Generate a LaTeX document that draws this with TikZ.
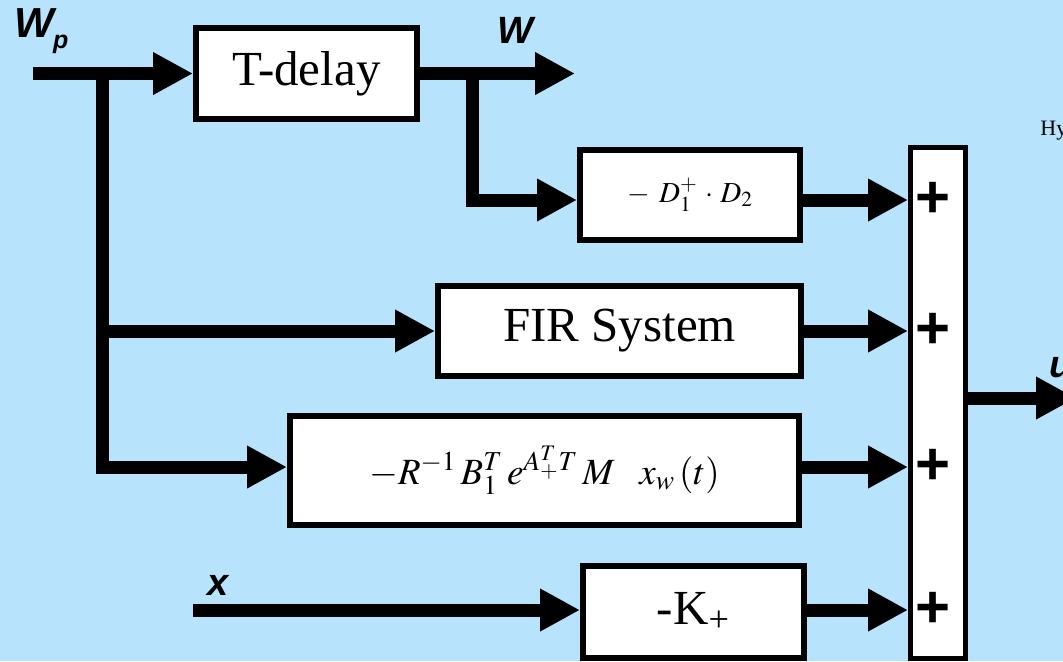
\documentclass[tikz,border=0pt]{standalone}
\usepackage{mathptmx}
\usepackage{fontspec}
\setmainfont{Liberation Serif}
\setsansfont{Liberation Sans}
\usetikzlibrary{arrows.meta,calc}
\definecolor{bg}{RGB}{183,228,252}
\begin{document}
\begin{tikzpicture}[x=0.5pt,y=-0.5pt,
  box/.style={draw=black, fill=white, line width=3pt, inner sep=0pt},
  sig/.style={line width=6.5pt, -{Triangle[length=20pt,width=20pt]}},
  lab/.style={font=\fontsize{19}{19}\selectfont\sffamily\bfseries\itshape, inner sep=0pt},
  bigtext/.style={font=\fontsize{24.5}{24.5}\selectfont},
  plus/.style={font=\fontsize{30}{30}\selectfont\sffamily\bfseries, inner sep=0pt}]
\useasboundingbox (0,0) rectangle (1063,661);
\clip (0,0) rectangle (1063,661);
\fill[bg] (0,0) rectangle (1063,661);

% blocks
\node[box, bigtext, minimum width=110.5pt, minimum height=45.5pt] (T) at (306.5,73.5) {T-delay};
\node[box, minimum width=110pt, minimum height=45pt] (D) at (690,195) {\fontsize{14.5}{14.5}\selectfont$-\;\,D_1^{+}\,\cdot\, D_2$};
\node[box, bigtext, minimum width=181.5pt, minimum height=45pt] (F) at (619.5,331) {FIR System};
\node[box, minimum width=254.5pt, minimum height=54.5pt] (B) at (544.5,470.5) {\fontsize{18.5}{18.5}\selectfont$-R^{-1}\,B_1^{T}\,e^{A_{+}^{T}T}\,M\;\;\; x_{w}\,(t)$};
\node[box, bigtext, minimum width=110.5pt, minimum height=46pt] (K) at (693.5,612) {-K\textsubscript{+}};
\node[draw=black, fill=white, line width=2.5pt, minimum width=27.5pt, minimum height=255.5pt, inner sep=0pt] (S) at (938,403) {};

% plus signs
\node[plus] (p1) at (933,200) {+};
\node[plus] (p2) at (933,331) {+};
\node[plus] (p3) at (933,467) {+};
\node[plus] (p4) at (933,610) {+};

% labels
\node[lab, anchor=base west] (wp) at (14,37) {\fontsize{21}{21}\selectfont W\kern-0.5pt\raisebox{-5.5pt}{\fontsize{12.5}{12.5}\selectfont p}};
\node[lab, anchor=base west] (wl) at (497,43) {W};
\node[lab, anchor=base west] (xl) at (207,595) {x};
\node[lab, anchor=base west] (ul) at (1049,377) {u};
\node[anchor=base west, font=\fontsize{11}{11}\selectfont, inner sep=0pt] (hy) at (1040,135) {Hy};

% coordinates
\coordinate (wpin) at (33,73.5);
\coordinate (b1) at (102,73.5);
\coordinate (wout) at (575,73.5);
\coordinate (b3) at (472,73.5);
\coordinate (xin) at (193,610);
\coordinate (uout) at (1076,398);
\coordinate (dIn) at ([yshift=-2.5pt]D.west);
\coordinate (bIn) at ([yshift=1.75pt]B.west);
\coordinate (kIn) at ([yshift=1pt]K.west);
\coordinate (dOut) at ([yshift=-2.5pt]D.east);
\coordinate (bOut) at ([yshift=1.75pt]B.east);
\coordinate (kOut) at ([yshift=1pt]K.east);
\coordinate (sOut) at ([yshift=2.5pt]S.east);

% connectors
\draw[sig] (wpin) -- (T.west);
\draw[sig] (T.east) -- (wout);
\draw[sig] (b3) |- (dIn);
\draw[sig] (b1) |- (bIn);
\draw[sig] (b1 |- F.west) -- (F.west);
\draw[sig] (xin) -- (kIn);
\draw[sig] (dOut) -- (dOut -| S.west);
\draw[sig] (F.east) -- (F.east -| S.west);
\draw[sig] (bOut) -- (bOut -| S.west);
\draw[sig] (kOut) -- (kOut -| S.west);
\draw[sig] (sOut) -- (sOut -| uout);
\end{tikzpicture}
\end{document}
